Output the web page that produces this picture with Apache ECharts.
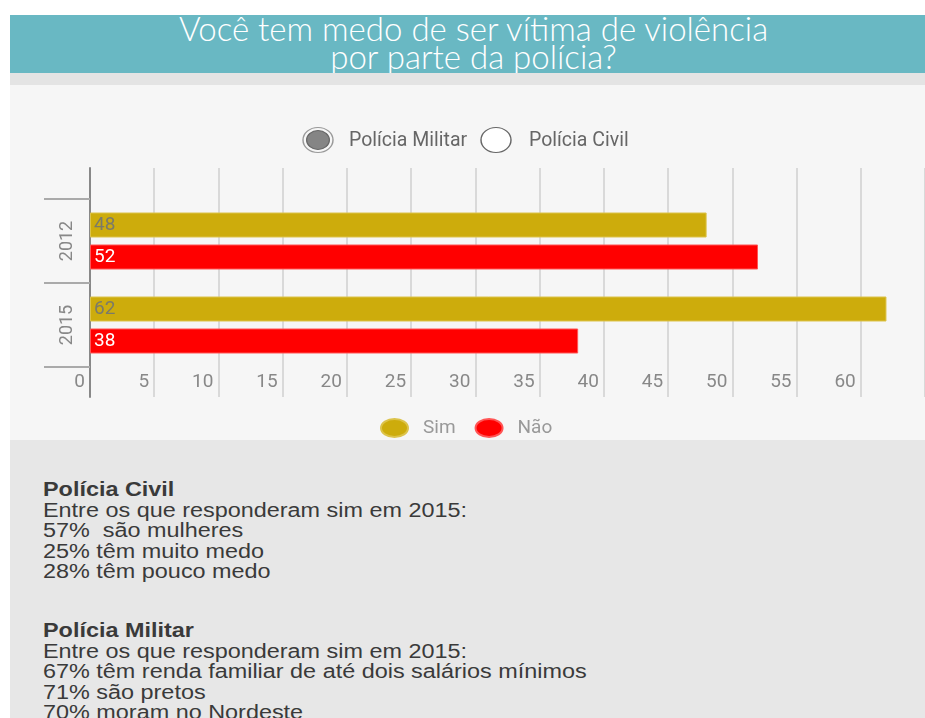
<!DOCTYPE html>
<html>
<head>
<meta charset="utf-8">
<script src="https://cdn.jsdelivr.net/npm/echarts@6/dist/echarts.min.js"></script>
<style>
  html, body { margin:0; padding:0; width:925px; height:718px; overflow:hidden; background:#ffffff; }
  #header { position:absolute; left:10px; top:15px; width:915px; height:58px; background:#69b8c3; overflow:hidden;
    color:#ffffff; text-align:center; font-family:Lato,Roboto,'Noto Sans',sans-serif;
    font-size:33px; line-height:28px; font-weight:300; padding-left:12px; box-sizing:border-box; }
  #header div { position:relative; top:-1px; }
  #strip { position:absolute; left:10px; top:73px; width:915px; height:12px; background:#e4e4e4; }
  #chart { position:absolute; left:10px; top:85px; width:915px; height:355px; background:#f6f6f6; }
  #notes { position:absolute; left:10px; top:440px; width:915px; height:278px; background:#e7e7e7; overflow:hidden;
    font-family:'Liberation Sans', Arial, sans-serif; font-size:19.5px; line-height:20.5px; color:#3a3a3a; }
  #notes .blk { position:absolute; left:33px; white-space:nowrap; transform:scaleX(1.2); transform-origin:0 0; }
  #notes b { font-weight:bold; }
</style>
</head>
<body>
<div id="header"><div>Você tem medo de ser vítima de violência<br>por parte da polícia?</div></div>
<div id="strip"></div>
<div id="chart"></div>
<div id="notes">
  <div class="blk" style="top:39px"><b>Polícia Civil</b><br>Entre os que responderam sim em 2015:<br>57%&nbsp; são mulheres<br>25% têm muito medo<br>28% têm pouco medo</div>
  <div class="blk" style="top:180px"><b>Polícia Militar</b><br>Entre os que responderam sim em 2015:<br>67% têm renda familiar de até dois salários mínimos<br>71% são pretos<br>70% moram no Nordeste</div>
</div>
<script>
const categories = ['2012', '2015'];
const simValues = [48, 62];
const naoValues = [52, 38];
const seriesNames = ['Sim', 'Não'];
const radioLabels = ['Polícia Militar', 'Polícia Civil'];

const COND = "Roboto,'Noto Sans',sans-serif";
const ELLIPSE = 'path://M0,10 A10,10 0 1,1 20,10 A10,10 0 1,1 0,10 Z';
const chart = echarts.init(document.getElementById('chart'), null, { renderer: 'canvas' });

const option = {
  backgroundColor: '#f6f6f6',
  animation: false,
  graphic: [
    { type: 'circle', shape: { cx: 308, cy: 55, r: 12.5 }, scaleX: 1.2, originX: 308, originY: 55,
      style: { fill: '#f6f6f6', stroke: '#999', lineWidth: 1.2 } },
    { type: 'circle', shape: { cx: 308, cy: 55, r: 9.5 }, scaleX: 1.2, originX: 308, originY: 55,
      style: { fill: '#858585', stroke: '#666', lineWidth: 1 } },
    { type: 'text', left: 339, top: 46, style: { text: radioLabels[0], fill: '#666', font: '19.5px ' + COND } },
    { type: 'circle', shape: { cx: 486, cy: 55, r: 12.5 }, scaleX: 1.2, originX: 486, originY: 55,
      style: { fill: '#ffffff', stroke: '#666', lineWidth: 1.2 } },
    { type: 'text', left: 519, top: 46, style: { text: radioLabels[1], fill: '#666', font: '19.5px ' + COND } }
  ],
  legend: {
    data: seriesNames,
    top: 328,
    left: 365,
    icon: ELLIPSE,
    symbolKeepAspect: false,
    itemWidth: 27,
    itemHeight: 18,
    itemGap: 19,
    textStyle: { color: '#999', fontSize: 19, fontFamily: COND, padding: [0, 0, 0, 10] }
  },
  grid: [
    { left: 80, top: 83, right: -1, bottom: 43 },
    { left: 80, top: 114, right: -1, bottom: 73 }
  ],
  xAxis: [
    {
      gridIndex: 0, type: 'value', min: 0, max: 65, interval: 5,
      axisLine: { show: false }, axisTick: { show: false },
      splitLine: { show: true, lineStyle: { color: '#d9d9d9', width: 2 } },
      axisLabel: { inside: true, margin: 5, align: 'right', padding: [0, 5, 0, 0], showMaxLabel: false,
        color: '#888', fontSize: 19, fontFamily: COND }
    },
    { gridIndex: 1, type: 'value', min: 0, max: 65, interval: 5, show: false }
  ],
  yAxis: [
    {
      gridIndex: 0, type: 'value', min: 0, max: 1,
      axisLine: { show: true, lineStyle: { color: '#888', width: 2 } },
      axisTick: { show: false }, axisLabel: { show: false }, splitLine: { show: false }
    },
    {
      gridIndex: 1, type: 'category', data: categories, inverse: true,
      axisLine: { show: false },
      axisTick: { show: true, length: 46, lineStyle: { color: '#aaa', width: 2 } },
      axisLabel: { rotate: 90, margin: 14, color: '#888', fontSize: 18, fontFamily: COND },
      splitLine: { show: false }
    }
  ],
  series: [
    {
      name: seriesNames[0], type: 'bar', xAxisIndex: 1, yAxisIndex: 1, data: simValues,
      barWidth: 25, barGap: '28%',
      itemStyle: { color: '#cdac0c', borderColor: '#dcc34a', borderWidth: 1 },
      label: { show: true, position: 'insideLeft', distance: 4, color: '#7a7a6a', fontSize: 19, fontFamily: COND }
    },
    {
      name: seriesNames[1], type: 'bar', xAxisIndex: 1, yAxisIndex: 1, data: naoValues,
      barWidth: 25, barGap: '28%',
      itemStyle: { color: '#ff0000', borderColor: '#ff5555', borderWidth: 1 },
      label: { show: true, position: 'insideLeft', distance: 4, color: '#ffffff', fontSize: 19, fontFamily: COND }
    }
  ]
};
chart.setOption(option);
</script>
</body>
</html>
